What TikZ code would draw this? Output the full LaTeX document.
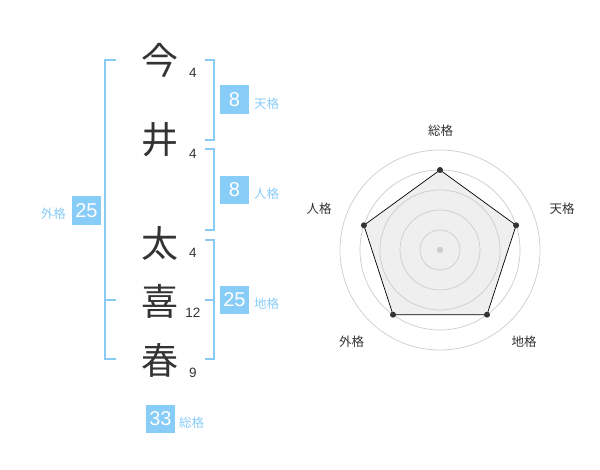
\documentclass[tikz,border=0pt]{standalone}
\usepackage{fontspec}
\setmainfont{Noto Sans CJK JP}
\newfontfamily\numfont{Liberation Sans}
\definecolor{kblue}{HTML}{88CCF8}
\definecolor{kline}{HTML}{88CCF5}
\definecolor{ktext}{HTML}{333333}
\definecolor{kgrid}{HTML}{CCCCCC}
\definecolor{kfill}{HTML}{EFEFEF}
\begin{document}
\begin{tikzpicture}[x=1pt,y=-1pt,
  kanji/.style={font=\fontsize{37}{37}\selectfont, text=ktext, inner sep=0pt},
  stroke/.style={font=\numfont\fontsize{13.5}{13.5}\selectfont, text=ktext, inner sep=0pt},
  numbox/.style={fill=kblue, text=white, minimum width=28.5pt, minimum height=28.5pt, inner sep=0pt, font=\numfont\fontsize{20}{20}\selectfont},
  kaku/.style={text=kblue, font=\fontsize{12.5}{12.5}\selectfont, inner sep=0pt},
  brk/.style={draw=kline, line width=2pt},
  rlabel/.style={text=ktext, font=\fontsize{12.5}{12.5}\selectfont, inner sep=0pt},
  dot/.style={circle, fill=ktext, inner sep=0pt, minimum size=6pt}]
\useasboundingbox (0,0) rectangle (600,470);
% characters
\node[kanji] (c1) at (160,60) {今};
\node[kanji] (c2) at (160,140) {井};
\node[kanji] (c3) at (160,243) {太};
\node[kanji] (c4) at (160,301) {喜};
\node[kanji] (c5) at (160,360) {春};
\node[stroke] (s1) at (193,73) {4};
\node[stroke] (s2) at (193,153.5) {4};
\node[stroke] (s3) at (193,253) {4};
\node[stroke] (s4) at (193,312.5) {12};
\node[stroke] (s5) at (193,372.5) {9};
% brackets right
\draw[brk] (205,60) -- (214.3,60) -- (214.3,140) -- (205,140);
\draw[brk] (205,149.5) -- (214.3,149.5) -- (214.3,230) -- (205,230);
\draw[brk] (205,240) -- (214.3,240) -- (214.3,359.5) -- (205,359.5);
\draw[brk] (205,300) -- (214.3,300);
% bracket left
\draw[brk] (116,60) -- (105,60) -- (105,359.5) -- (116,359.5);
\draw[brk] (105,300) -- (116,300);
% boxes
\node[numbox] (b1) at (234.5,99.5) {8};
\node[kaku, anchor=west] (k1) at (254,104) {天格};
\node[numbox] (b2) at (234.5,190) {8};
\node[kaku, anchor=west] (k2) at (254,194) {人格};
\node[numbox] (b3) at (234.5,300) {25};
\node[kaku, anchor=west] (k3) at (254,303.5) {地格};
\node[numbox] (b4) at (86.5,210.5) {25};
\node[kaku, anchor=east] (k4) at (66,213.5) {外格};
\node[numbox] (b5) at (160.5,419) {33};
\node[kaku, anchor=west] (k5) at (179,423) {総格};
% radar
\coordinate (O) at (440,250);
\fill[kfill] (440,170) -- (516.1,225.3) -- (487,314.7) -- (393,314.7) -- (363.9,225.3) -- cycle;
\foreach \r in {20,40,60,80,100} \draw[kgrid, line width=0.7pt] (O) circle[radius=\r];
\fill[kgrid] (O) circle[radius=3.2];
\coordinate (q1) at (440,170);
\coordinate (q2) at (516.1,225.3);
\coordinate (q3) at (487,314.7);
\coordinate (q4) at (393,314.7);
\coordinate (q5) at (363.9,225.3);
\draw[black, line width=0.7pt] (q1) -- (q2) -- (q3) -- (q4) -- (q5) -- cycle;
\foreach \q in {q1,q2,q3,q4,q5} \node[dot] at (\q) {};
\node[rlabel] (r1) at (440.5,131) {総格};
\node[rlabel] (r2) at (562,209) {天格};
\node[rlabel] (r3) at (319,209) {人格};
\node[rlabel] (r4) at (351.5,342) {外格};
\node[rlabel] (r5) at (524,342) {地格};
\end{tikzpicture}
\end{document}
